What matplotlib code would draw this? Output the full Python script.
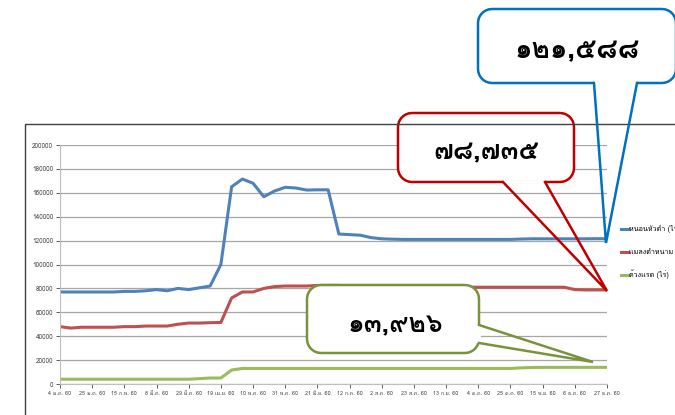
import numpy as np
import matplotlib
matplotlib.use("Agg")
import matplotlib.pyplot as plt
from matplotlib import font_manager
from matplotlib.ft2font import FT2Font
from matplotlib.path import Path
from matplotlib.patches import PathPatch

# ── data (weekly, 4 ม.ค. 60 .. 27 ธ.ค. 60) ─────────────────────────────────
tick_labels = ["4 ม.ค. 60", "25 ม.ค. 60", "15 ก.พ. 60", "8 มี.ค. 60", "29 มี.ค. 60",
               "19 เม.ย. 60", "10 พ.ค. 60", "31 พ.ค. 60", "21 มิ.ย. 60", "12 ก.ค. 60",
               "2 ส.ค. 60", "23 ส.ค. 60", "13 ก.ย. 60", "4 ต.ค. 60", "25 ต.ค. 60",
               "15 พ.ย. 60", "6 ธ.ค. 60", "27 ธ.ค. 60"]

series_names = ["หนอนหัวดำ (ไร่)", "แมลงดำหนาม (ไร่)", "ด้วงแรด (ไร่)"]

blackhead = [77000, 77000, 77000, 77000, 77000, 77000, 77500, 77500, 78000, 79000,
             78000, 80000, 79000, 80500, 82000, 100000, 165000, 171500, 168000, 156700,
             161500, 164600, 164000, 162300, 162500, 162500, 125500, 125000, 124500, 122500,
             121500, 121200, 121000, 121000, 121000, 121000, 121000, 121000, 121000, 121000,
             121000, 121000, 121000, 121300, 121500, 121500, 121500, 121500, 121500, 121500,
             121588, 121588]
hispa = [48000, 46800, 47500, 47500, 47500, 47500, 48000, 48000, 48500, 48500,
         48500, 50000, 51000, 51000, 51300, 51500, 72000, 77000, 77000, 80000,
         81500, 82000, 82000, 82000, 82500, 82500, 82500, 81500, 81500, 81500,
         81000, 80500, 80500, 80500, 80500, 80500, 80500, 81000, 81000, 81000,
         81000, 81000, 81000, 81000, 81000, 81000, 81000, 81000, 79000, 78735,
         78735, 78735]
rhino = [4000, 4000, 4000, 4000, 4000, 4000, 4000, 4000, 4000, 4000,
         4000, 4000, 4000, 4500, 5000, 5000, 11700, 13000, 13000, 13000,
         13000, 13000, 13000, 13000, 13000, 13000, 13000, 13000, 13000, 13000,
         13000, 13000, 13000, 13000, 13000, 13000, 13000, 13000, 13000, 13000,
         13000, 13000, 13000, 13500, 13800, 13900, 13926, 13926, 13926, 13926,
         13926, 13926]

callout_texts = ["๑๒๑,๕๘๘", "๗๘,๗๓๕", "๑๓,๙๒๖"]


def _thai_font():
    for f in font_manager.fontManager.ttflist:
        try:
            cmap = FT2Font(f.fname).get_charmap()
        except Exception:
            continue
        if ord("๑") in cmap and ord("ก") in cmap:
            return f.name
    return "DejaVu Sans"


THAI = _thai_font()
plt.rcParams["font.family"] = [THAI, "DejaVu Sans"]

W, H = 675, 415
fig = plt.figure(figsize=(W / 100, H / 100), dpi=100)

# plot area: x 60..607 px, y 145..384 px (from top)
ax = fig.add_axes([60 / W, 1 - 384 / H, 547 / W, 239 / H])
x = np.arange(len(blackhead))
colors = ["#4F81BD", "#C0504D", "#9BBB59"]
for vals, name, c in zip([blackhead, hispa, rhino], series_names, colors):
    ax.plot(x, vals, color=c, lw=2.2, label=name, solid_joinstyle="round")

ax.set_xlim(0, len(x) - 1)
ax.set_ylim(0, 200000)
ax.set_yticks(np.arange(0, 200001, 20000))
ax.set_xticks(np.arange(0, len(x), 3))
ax.set_xticklabels(tick_labels)
ax.tick_params(axis="y", labelsize=4.6, colors="#444444", length=3, width=0.6, pad=2)
ax.tick_params(axis="x", labelsize=3.9, colors="#444444", length=3, width=0.6, pad=2)
ax.grid(axis="y", color="#A6A6A6", lw=0.9)
ax.set_axisbelow(True)
for s in ["top", "right"]:
    ax.spines[s].set_visible(False)
for s in ["left", "bottom"]:
    ax.spines[s].set_color("#BFBFBF")
    ax.spines[s].set_linewidth(0.8)

leg = ax.legend(loc="upper left", bbox_to_anchor=(1.02, 0.68), frameon=False,
                fontsize=5.2, handlelength=1.0, handletextpad=0.15, labelspacing=1.9,
                borderaxespad=0)

# overlay in figure pixel coords (y down) for frame + callouts
ov = fig.add_axes([0, 0, 1, 1], zorder=5)
ov.set_xlim(0, W)
ov.set_ylim(H, 0)
ov.axis("off")
ov.patch.set_alpha(0)

# chart-area frame (left + top edges visible)
ov.plot([25, 25, 676], [416, 124, 124], color="#404040", lw=1.0)


def rounded_rect(x0, y0, x1, y1, r, n=8):
    pts = []
    corners = [(x1 - r, y0 + r, -90, 0), (x1 - r, y1 - r, 0, 90),
               (x0 + r, y1 - r, 90, 180), (x0 + r, y0 + r, 180, 270)]
    for cx, cy, a0, a1 in corners:
        for a in np.linspace(np.radians(a0), np.radians(a1), n):
            pts.append((cx + r * np.cos(a), cy + r * np.sin(a)))
    return pts


def callout(box, r, base, tip, color, text, fs, dx=0, dy=5):
    x0, y0, x1, y1 = box
    outline = rounded_rect(x0, y0, x1, y1, r)
    ring = Path(outline + [outline[0]])
    ov.add_patch(PathPatch(ring, facecolor="white", edgecolor=color, lw=1.8))
    (bx0, by0), (bx1, by1) = base
    # open the outline where the pointer leaves the box
    ov.plot([bx0, bx1], [by0, by1], color="white", lw=2.8, solid_capstyle="butt")
    ov.plot([bx0, tip[0], bx1], [by0, tip[1], by1], color=color, lw=1.8,
            solid_joinstyle="miter")
    ov.text((x0 + x1) / 2 + dx, (y0 + y1) / 2 + dy, text, ha="center", va="center",
            fontsize=fs, fontweight="bold", color="black")


callout((478, 9, 676, 83), 14, ((594, 83), (637, 83)), (606, 243), "#0070C0",
        callout_texts[0], 20, dx=0, dy=5)
callout((398, 113, 574, 182), 14, ((503, 182), (545, 182)), (607, 291), "#C00000",
        callout_texts[1], 19, dx=0, dy=5)
callout((307, 285, 479, 353), 14, ((479, 325), (479, 343)), (593, 362), "#77933C",
        callout_texts[2], 19, dx=2, dy=6)

fig.savefig("out.png", dpi=100)
